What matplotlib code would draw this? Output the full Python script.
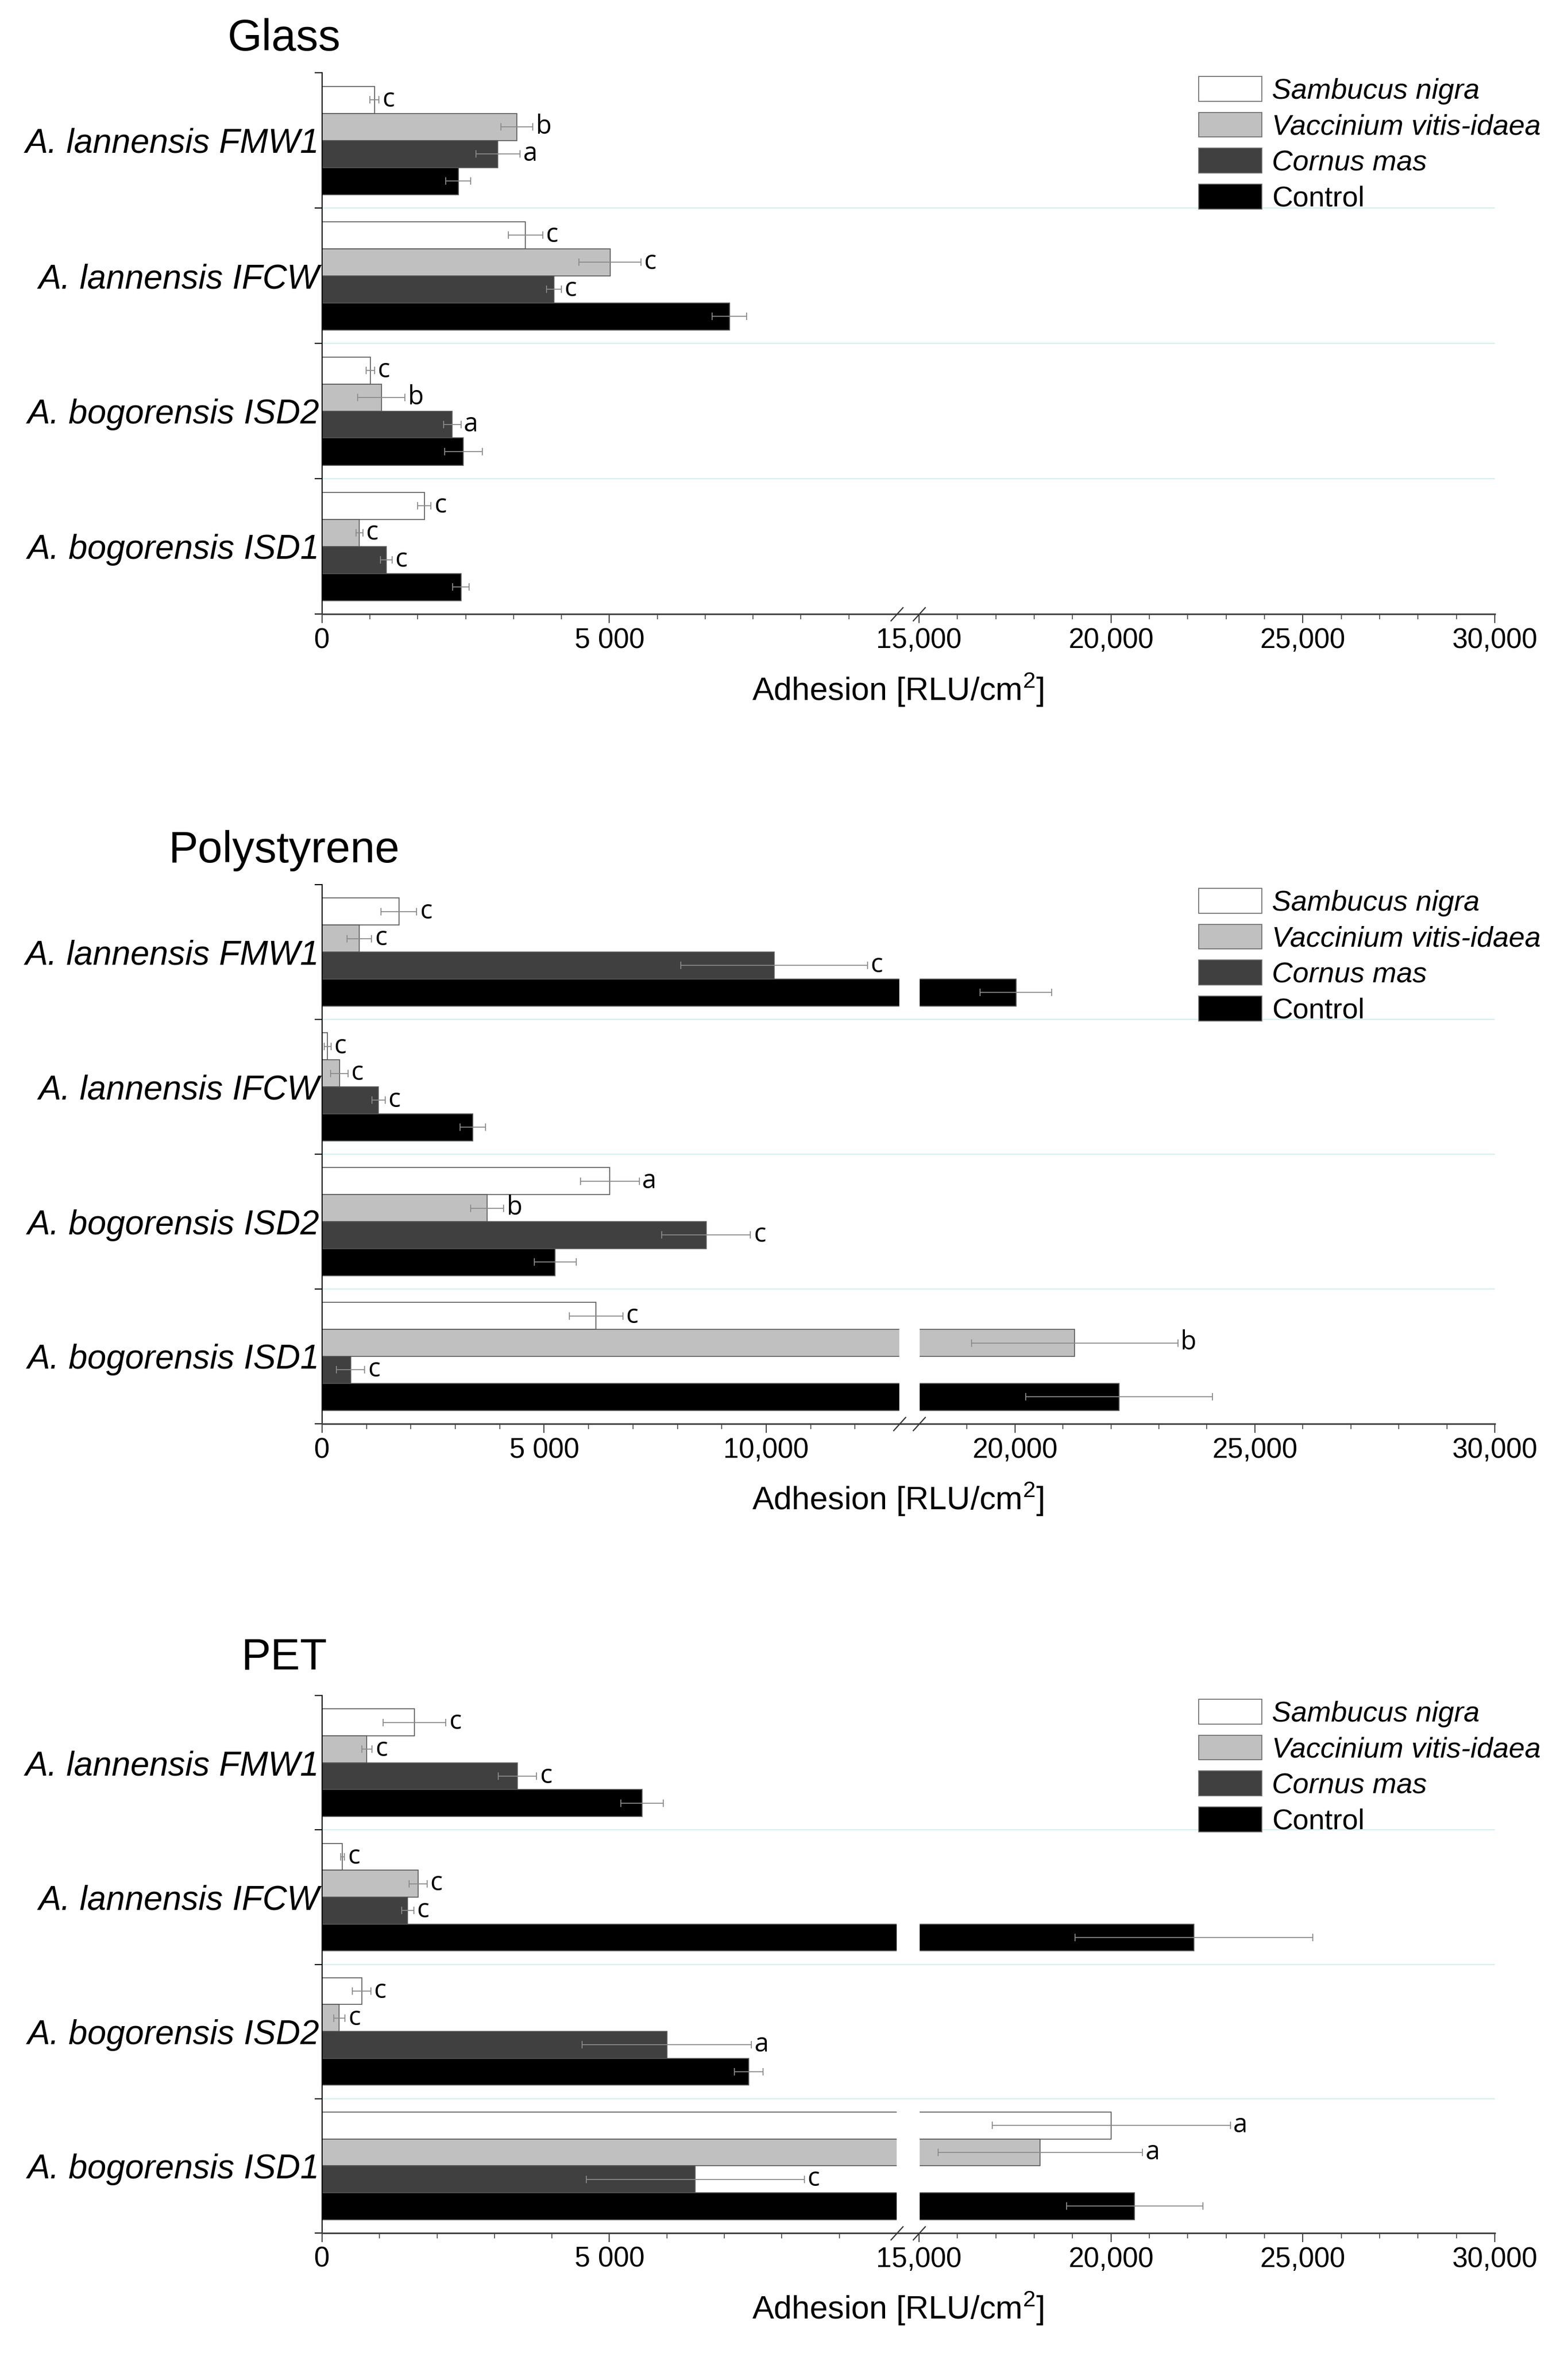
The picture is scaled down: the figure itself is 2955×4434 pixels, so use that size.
import numpy as np
import matplotlib
matplotlib.use("Agg")
import matplotlib.pyplot as plt

plt.rcParams['font.family'] = ['Liberation Sans', 'DejaVu Sans']
plt.rcParams['mathtext.fontset'] = 'custom'
plt.rcParams['mathtext.rm'] = 'Liberation Sans'

# strains, top to bottom
strains = ['A. lannensis FMW1', 'A. lannensis IFCW', 'A. bogorensis ISD2', 'A. bogorensis ISD1']
series = ['Sambucus nigra', 'Vaccinium vitis-idaea', 'Cornus mas', 'Control']
colors = ['white', '#c0c0c0', '#404040', 'black']

# Glass (rows = series, cols = strains)
glass_mean = [[910, 3540, 840, 1780],
              [3390, 5010, 1030, 650],
              [3060, 4035, 2265, 1115],
              [2370, 7090, 2460, 2415]]
glass_err = [[80, 300, 70, 115],
             [280, 540, 415, 60],
             [385, 130, 150, 100],
             [220, 300, 330, 140]]
glass_sig = [['c', 'c', 'c', 'c'],
             ['b', 'c', 'b', 'c'],
             ['a', 'c', 'a', 'c'],
             [None, None, None, None]]

# Polystyrene
ps_mean = [[1730, 125, 6480, 6170],
           [840, 390, 3715, 21245],
           [10180, 1270, 8645, 640],
           [20020, 3395, 5250, 22170]]
ps_err = [[400, 80, 660, 600],
          [275, 195, 370, 2150],
          [2100, 150, 1000, 320],
          [750, 290, 475, 1950]]
ps_sig = [['c', 'c', 'a', 'c'],
          ['c', 'c', 'b', 'b'],
          ['c', 'c', 'c', 'c'],
          [None, None, None, None]]

# PET
pet_mean = [[1610, 355, 690, 20010],
            [780, 1670, 300, 18160],
            [3400, 1490, 6000, 6495],
            [5565, 22160, 7425, 20620]]
pet_err = [[545, 35, 160, 3100],
           [90, 155, 100, 2660],
           [335, 105, 1475, 1900],
           [370, 3100, 250, 1780]]
pet_sig = [['c', 'c', 'c', 'a'],
           ['c', 'c', 'c', 'a'],
           ['c', 'c', 'a', 'c'],
           [None, None, None, None]]

glass_ticks = [0, 5000, 15000, 20000, 25000, 30000]
glass_ticklabels = ['0', '5 000', '15,000', '20,000', '25,000', '30,000']
ps_ticks = [0, 5000, 10000, 20000, 25000, 30000]
ps_ticklabels = ['0', '5 000', '10,000', '20,000', '25,000', '30,000']

W, H = 2955, 4434
fig = plt.figure(figsize=(W / 100, H / 100), dpi=100)


def broken_scale(lo, hi, f_lo, f_hi):
    xs = [0, lo, hi, 30000]
    fs = [0, f_lo, f_hi, 1]

    def fwd(v):
        return np.interp(v, xs, fs)

    def inv(v):
        return np.interp(v, fs, xs)
    return fwd, inv


def panel(bottom, height, title, title_y, mean, err, sig, lo, hi, f_lo, f_hi,
          ticks, ticklabels, minor_left, minor_right):
    ax = fig.add_axes([607 / W, bottom, 2210 / W, height])
    ax.set_xscale('function', functions=broken_scale(lo, hi, f_lo, f_hi))
    y = np.arange(len(strains))
    bh = 0.2
    for j in range(len(series)):
        ys = y - 0.3 + bh * j
        ax.barh(ys, mean[j], height=bh, color=colors[j], edgecolor='#555555',
                linewidth=1.2, zorder=2, label=series[j])
        ax.errorbar(mean[j], ys, xerr=err[j], fmt='none', ecolor='#8a8a8a',
                    elinewidth=1.3, capsize=5, capthick=1.3, zorder=6)
        for k in range(len(strains)):
            if sig[j][k]:
                ax.annotate(sig[j][k], (mean[j][k] + err[j][k], ys[k]),
                            xytext=(4, 0), textcoords='offset points',
                            ha='left', va='center', fontsize=35,
                            family='Open Sans', zorder=7)
    # white gap for the axis break
    ax.axvspan(lo, hi, color='white', zorder=3)
    for b in [0.5, 1.5, 2.5]:
        ax.axhline(b, color='#d6eeee', lw=1.6, zorder=5)

    ax.set_xlim(0, 30000)
    ax.set_ylim(3.5, -0.5)
    ax.set_xticks(ticks)
    ax.set_xticklabels(ticklabels)
    ax.set_xticks(list(minor_left) + list(minor_right), minor=True)
    ax.tick_params(axis='x', which='major', labelsize=38, length=12, width=1.5,
                   color='#444444', pad=6)
    ax.tick_params(axis='x', which='minor', length=7, width=1.2, color='#444444')

    ax.set_yticks([-0.5, 0.5, 1.5, 2.5, 3.5])
    ax.set_yticklabels([])
    ax.set_yticks(y, minor=True)
    ax.set_yticklabels(strains, minor=True, fontstyle='italic', fontsize=46)
    ax.tick_params(axis='y', which='major', length=10, width=1.5)
    ax.tick_params(axis='y', which='minor', length=0, pad=4)

    for s in ['top', 'right']:
        ax.spines[s].set_visible(False)
    ax.spines['left'].set_linewidth(1.5)
    ax.spines['bottom'].set_linewidth(2.2)
    ax.spines['bottom'].set_color('#444444')
    ax.spines['bottom'].set_zorder(10)
    ax.spines['left'].set_zorder(10)

    # break marks
    ax.plot([lo, hi], [0, 0], transform=ax.get_xaxis_transform(),
            marker=[(-1, -1.1), (1, 1.1)], markersize=19, linestyle='none',
            mec='#333333', mew=1.6, clip_on=False, zorder=11)

    ax.set_xlabel(r'Adhesion [RLU/cm$^2$]', fontsize=44)
    ax.xaxis.set_label_coords(0.491, -0.14)
    ax.xaxis.label.set_va('center')

    leg = ax.legend(loc='upper left', bbox_to_anchor=(0.7475, 0.993), frameon=False,
                    fontsize=39, handlelength=2.2, handleheight=0.95,
                    labelspacing=0.27, handletextpad=0.35, borderpad=0,
                    borderaxespad=0)
    for t in leg.get_texts()[:3]:
        t.set_fontstyle('italic')
    for p in leg.get_patches():
        p.set_edgecolor('#666666')

    fig.text(535 / W, 1 - title_y / H, title, ha='center', va='center', fontsize=60)
    return ax


panel(1 - 1157 / H, 1020 / H, 'Glass', 73, glass_mean, glass_err, glass_sig,
      10000, 15000, 0.490, 0.509, glass_ticks, glass_ticklabels,
      [v for v in np.arange(0, 10000, 5000 / 6) if v % 5000], np.arange(16000, 30000, 1000))
panel(1 - 2683 / H, 1016 / H, 'Polystyrene', 1603, ps_mean, ps_err, ps_sig,
      13000, 18000, 0.4923, 0.509, ps_ticks, ps_ticklabels,
      [v for v in np.arange(0, 13000, 1000) if v % 5000], [19000, 21000, 22000, 23000, 24000, 26000, 27000, 28000, 29000])
panel(1 - 4208 / H, 1013 / H, 'PET', 3124, pet_mean, pet_err, pet_sig,
      10000, 15000, 0.490, 0.509, glass_ticks, glass_ticklabels,
      [v for v in np.arange(0, 10000, 1000) if v % 5000], [16000, 17000, 18000, 19000, 21000, 22000, 23000, 24000, 26000, 27000, 28000, 29000])

fig.savefig('out.png', dpi=100, facecolor='white')
